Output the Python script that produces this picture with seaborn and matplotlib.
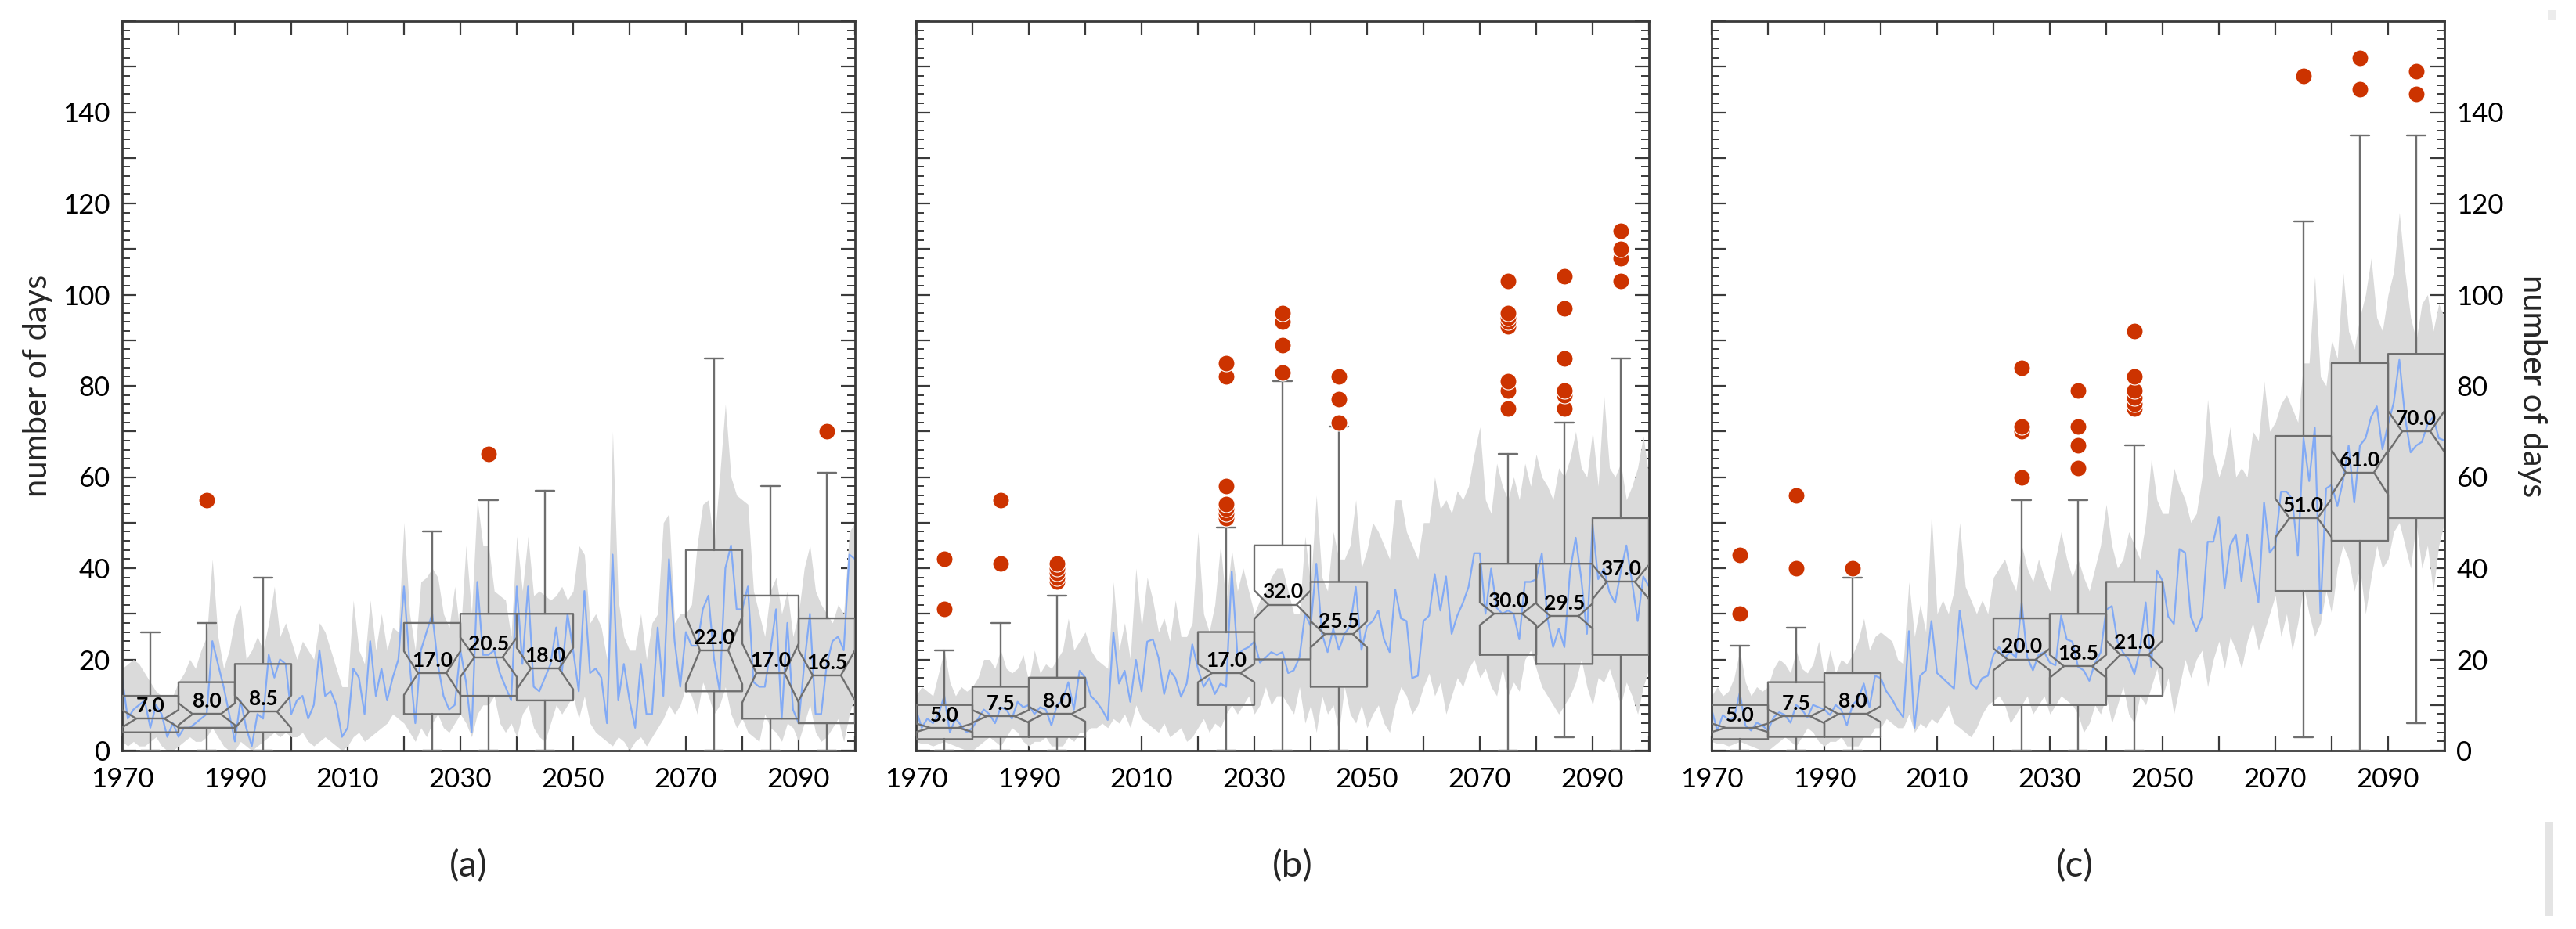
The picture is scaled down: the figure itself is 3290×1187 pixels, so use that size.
import numpy as np
import pandas as pd
import matplotlib
matplotlib.use("Agg")
import matplotlib.pyplot as plt
from matplotlib.patches import Rectangle
from matplotlib.ticker import MultipleLocator, FuncFormatter
import seaborn as sns

# ---- data ----
years = np.arange(1970, 2101)
decade_centres = [1975, 1985, 1995, 2025, 2035, 2045, 2075, 2085, 2095]

# panel (a)
a_line = [16, 7, 9, 10, 11, 5, 10, 8, 3, 6,
          3, 5, 5, 6, 7, 8, 24, 19, 14, 8,
          2, 11, 5, 1, 8, 7, 21, 16, 20, 19,
          8, 11, 12, 7, 10, 22, 12, 13, 10, 3,
          5, 18, 16, 8, 24, 12, 18, 11, 16, 20,
          36, 19, 6, 22, 26, 30, 19, 12, 9, 10,
          22, 15, 4, 37, 21,
          21, 22, 17, 14, 11, 36, 19, 36, 14, 13,
          16, 19, 27, 17, 30, 22, 13, 35, 17, 18,
          16, 6, 43, 11, 19, 11, 5, 19, 8, 8,
          27, 12, 42, 24, 14, 26, 23, 23, 31, 34,
          20, 13, 40, 45, 31, 31, 36, 15, 14, 14,
          22, 31, 7, 28, 9, 6, 19, 30, 8, 8,
          19, 24, 25, 22, 43, 42]
a_low = [2, 1, 2, 1, 1, 2, 3, 1, 0, 0,
         1, 2, 3, 2, 2, 3, 5, 3, 1, 0,
         0, 2, 1, 0, 1, 2, 3, 4, 3, 4,
         3, 3, 4, 2, 1, 2, 3, 2, 1, 0,
         1, 3, 4, 2, 3, 4, 5, 6, 8, 7,
         6, 4, 2, 5, 3, 6, 8, 5, 4, 6,
         8, 6, 3, 8, 10,
         10, 12, 6, 4, 6, 3, 8, 10, 5, 3,
         2, 6, 10, 8, 10, 12, 7, 12, 6, 4,
         3, 2, 1, 3, 2, 0, 2, 3, 1, 3,
         5, 7, 10, 8, 10, 14, 12, 8, 15, 12,
         8, 10, 14, 8, 5, 7, 4, 3, 2, 8,
         5, 4, 2, 6, 5, 2, 6, 10, 4, 2,
         3, 5, 7, 2, 8, 12]
a_high = [18, 19, 20, 19, 17, 15, 13, 12, 12, 12,
          15, 17, 20, 18, 22, 25, 42, 25, 18, 22,
          29, 32, 20, 22, 25, 22, 28, 36, 25, 28,
          24, 20, 24, 22, 20, 28, 26, 22, 18, 14,
          14, 33, 22, 19, 33, 22, 30, 22, 27, 26,
          50, 30, 22, 37, 38, 40, 38, 30, 27, 36,
          25, 45, 30, 55, 45,
          45, 35, 34, 33, 25, 47, 35, 47, 34, 35,
          34, 33, 34, 36, 33, 35, 45, 43, 28, 30,
          27, 20, 70, 33, 25, 22, 22, 30, 20, 28,
          30, 50, 52, 28, 30, 30, 32, 45, 54, 55,
          45, 60, 76, 60, 56, 55, 54, 35, 30, 25,
          35, 38, 30, 35, 25, 30, 40, 45, 35, 32,
          30, 28, 32, 30, 48, 50]
a_med = [7.0, 8.0, 8.5, 17.0, 20.5, 18.0, 22.0, 17.0, 16.5]
a_q1 = [4, 5, 4, 8, 12, 11, 13, 7, 6]
a_q3 = [12, 15, 19, 28, 30, 30, 44, 34, 29]
a_whislo = [0, 0, 0, 0, 0, 0, 0, 0, 0]
a_whishi = [26, 28, 38, 48, 55, 57, 86, 58, 61]
a_fliers = [[], [55], [], [], [65], [], [], [], [70]]

# panel (b)
b_line = [9, 5, 7, 6, 8, 12, 4, 7, 5.5, 4,
          5, 7, 9, 8, 6, 9.5, 9, 7, 10.7, 9.5,
          10, 8, 9.5, 9, 5.5, 10, 11, 15, 9, 17.5,
          16, 12, 10.7, 9, 6.7, 25.9, 14.7, 17.5, 10.7, 19.9,
          13, 23.9, 24.4, 20.4, 12.4, 17.6, 15.9, 11.8, 14.7, 23.3,
          18, 14, 15.9, 12.4, 14.7, 14, 39.3, 21, 22.1, 22.7,
          23.9, 19.3, 20.4, 21.6, 21,
          21.6, 17, 17.6, 20.4, 30, 27.3, 41, 25.6, 21.6, 26.7,
          22.1, 25.6, 27.3, 35.9, 22.1, 27.3, 28.4, 30.7, 24.4, 21.6,
          35.3, 29, 28.4, 15.9, 16.4, 28.4, 29.6, 38.7, 30.7, 38.2,
          25.6, 29.6, 32.4, 35.9, 43.3, 43.3, 30, 39.9, 31.3, 30,
          30.7, 30, 24.4, 37, 37, 37.6, 43.3, 29, 22.7, 26.7,
          22.7, 39.3, 46.7, 37.6, 25.6, 49.6, 37.6, 39.9, 34.7, 32.4,
          39.3, 45, 37, 28.4, 38.2, 36]
b_low = [2, 1.5, 1.5, 1, 1.5, 2, 1.5, 1, 0.5, 0,
         0, 1, 2, 3, 2, 1, 3, 5, 4, 2,
         1, 2, 2, 3, 1, 1, 1, 3, 2, 4,
         4, 5, 5, 6, 5, 7, 6, 8, 5, 10,
         7, 6, 5, 4, 6, 3, 4, 5, 2, 3,
         5, 7, 4, 6, 5, 8, 10, 8, 10, 12,
         8, 10, 14, 10, 12,
         12, 10, 8, 14, 6, 10, 4, 12, 8, 10,
         4, 14, 8, 6, 10, 5, 8, 10, 6, 4,
         10, 14, 12, 8, 10, 14, 17, 12, 15, 8,
         12, 16, 14, 18, 20, 16, 18, 14, 12, 18,
         12, 15, 13, 20, 22, 18, 14, 12, 10, 8,
         10, 12, 15, 20, 14, 10, 16, 15, 18, 14,
         10, 15, 12, 8, 14, 18]
b_high = [12, 14, 13, 12, 17, 22, 15, 12, 14, 13,
          14, 16, 20, 20, 18, 22, 18, 17, 18, 21,
          15, 22, 17, 19, 18, 20, 22, 29, 22, 24,
          26, 22, 20, 19, 18, 37, 22, 28, 20, 40,
          27, 38, 33, 26, 29, 24, 33, 25, 25, 28,
          48, 30, 26, 32, 45, 32, 44, 35, 40, 35,
          30, 33, 35, 38, 40,
          40, 35, 30, 30, 47, 36, 56, 38, 35, 48,
          42, 42, 45, 55, 40, 44, 50, 48, 45, 42,
          55, 55, 48, 45, 42, 50, 50, 60, 53, 55,
          52, 57, 55, 58, 65, 71, 55, 52, 63, 58,
          55, 60, 55, 63, 58, 65, 60, 58, 55, 62,
          60, 64, 70, 62, 60, 70, 58, 78, 62, 60,
          63, 55, 58, 62, 69, 60]
b_med = [5.0, 7.5, 8.0, 17.0, 32.0, 25.5, 30.0, 29.5, 37.0]
b_q1 = [2.5, 3, 3, 10, 20, 14, 21, 19, 21]
b_q3 = [10, 14, 16, 26, 45, 37, 41, 41, 51]
b_whislo = [0, 0, 0, 0, 0, 0, 0, 3, 0]
b_whishi = [22, 28, 34, 49, 81, 71, 65, 72, 86]
b_fliers = [[31, 42], [41, 55], [37, 38, 39, 40, 41],
            [51, 52, 53, 54, 58, 82, 85], [83, 89, 94, 96], [72, 77, 82],
            [75, 79, 81, 93, 94, 95, 96, 103], [75, 78, 79, 86, 97, 104],
            [103, 108, 110, 114]]

# panel (c)
c_line = [9, 4.4, 7.8, 6.7, 7.3, 12.7, 5.5, 4.4, 6.1, 5.5,
          4.4, 7.3, 8.4, 7.8, 6.1, 10, 9, 7.3, 10, 9.5,
          9, 7.8, 10, 9, 5.5, 10, 11.3, 14.7, 9.5, 16.4,
          15.9, 13, 11.3, 9, 7.3, 26.2, 5, 16.4, 17.6, 28.4,
          17, 15.9, 14.7, 13.6, 30.7, 22.7, 14.7, 13.6, 15.9, 16.4,
          21, 22.7, 20.4, 21.6, 20.4, 32.4, 20.4, 17.6, 21, 21.6,
          19.3, 18.7, 29.6, 24.4, 23.9,
          18.4, 17.6, 15.3, 19.2, 21.5, 30.9, 31.7, 23.9, 21.5, 20,
          16.8, 22.3, 32.5, 18.4, 39.5, 37.2, 29.4, 27.8, 44.2, 43.4,
          29.4, 26.2, 29.4, 45.8, 45.8, 51.3, 35.6, 45, 47.4, 37.2,
          47.4, 39.5, 32.5, 54.4, 43.4, 45, 56.8, 56.8, 55.2, 42.7,
          68.5, 59.1, 70.8, 30.1, 57.5, 58.3, 53.6, 59.1, 66.9, 54.4,
          66.9, 68.5, 73.2, 75.5, 66.1, 71.6, 76.3, 85.7, 73.2, 65.4,
          66.9, 67.7, 71.6, 73.2, 68.5, 68]
c_low = [2, 1.5, 1.5, 1, 1.5, 2, 1.5, 1, 0.5, 0,
         0, 1, 2, 3, 2, 1, 3, 5, 4, 2,
         1, 2, 2, 3, 1, 1, 1, 3, 3, 5,
         5, 7, 6, 5, 5, 8, 4, 6, 5, 7,
         6, 8, 10, 6, 5, 4, 3, 5, 8, 10,
         11, 12, 10, 6, 8, 10, 12, 8, 10, 12,
         8, 10, 12, 11, 10,
         8, 4, 6, 10, 8, 12, 6, 10, 14, 8,
         6, 12, 10, 14, 18, 12, 16, 8, 14, 20,
         16, 20, 22, 14, 20, 24, 18, 25, 22, 18,
         24, 28, 22, 26, 30, 34, 25, 30, 22, 28,
         36, 30, 25, 28, 35, 30, 40, 45, 42, 35,
         40, 30, 38, 45, 40, 42, 48, 50, 45, 40,
         50, 40, 45, 35, 45, 50]
c_high = [12, 14, 12, 13, 16, 22, 15, 12, 14, 13,
          14, 18, 20, 19, 17, 22, 18, 17, 19, 24,
          16, 22, 17, 20, 19, 21, 24, 29, 22, 25,
          26, 25, 24, 20, 19, 37, 25, 32, 26, 52,
          30, 33, 30, 35, 50, 36, 33, 30, 33, 30,
          38, 40, 42, 38, 35, 45, 40, 37, 42, 38,
          35, 42, 48, 42, 38,
          42, 38, 35, 40, 45, 54, 45, 40, 42, 48,
          45, 42, 50, 64, 55, 52, 52, 62, 58, 55,
          50, 52, 60, 77, 65, 60, 64, 71, 60, 62,
          60, 70, 68, 81, 70, 72, 76, 78, 75, 72,
          85, 85, 104, 82, 80, 90, 86, 105, 92, 88,
          95, 100, 108, 95, 92, 100, 105, 118, 105, 95,
          90, 98, 100, 92, 98, 95]
c_med = [5.0, 7.5, 8.0, 20.0, 18.5, 21.0, 51.0, 61.0, 70.0]
c_q1 = [2.5, 3, 3, 10, 10, 12, 35, 46, 51]
c_q3 = [10, 15, 17, 29, 30, 37, 69, 85, 87]
c_whislo = [0, 0, 0, 0, 0, 0, 3, 0, 6]
c_whishi = [23, 27, 38, 55, 55, 67, 116, 135, 135]
c_fliers = [[30, 43], [40, 56], [40], [60, 70, 71, 84], [62, 67, 71, 79],
            [75, 76, 77.5, 79, 82, 92], [148], [145, 152], [144, 149]]

# sample size behind the notches (notch = med +/- 1.57 IQR / sqrt(n))
notch_n = {"a": 43, "b": 158, "c": 158}

# ---- style ----
sns.set_theme(style="ticks")
plt.rcParams["font.family"] = ["Lato", "DejaVu Sans"]
plt.rcParams["xtick.direction"] = "in"
plt.rcParams["ytick.direction"] = "in"

band_col = "#dadada"
line_col = "#82aaf5"
box_col = "#6e6e6e"
dot_col = "#cc3300"
axis_col = "#3a3a3a"

fig = plt.figure(figsize=(32.9, 11.87), dpi=100)
W, H = 3290, 1187
lefts = [156, 1170, 2186]
ax_w = 936
bottom_px, top_px = 959, 27
axes = [fig.add_axes([l / W, 1 - bottom_px / H, ax_w / W, (bottom_px - top_px) / H])
        for l in lefts]


def draw_panel(ax, line, low, high, med, q1, q3, wlo, whi, fliers, n):
    ax.fill_between(years, low, high, color=band_col, lw=0, zorder=1)
    sns.lineplot(x=years, y=line, ax=ax, color=line_col, lw=1.6, zorder=2)

    stats = []
    for m, lo, hi, a, b in zip(med, q1, q3, wlo, whi):
        half = 1.57 * (hi - lo) / np.sqrt(n)
        stats.append(dict(med=m, q1=lo, q3=hi, whislo=a, whishi=b,
                          cilo=m - half, cihi=m + half, fliers=[]))
    lp = dict(color=box_col, lw=1.7)
    ax.bxp(stats, positions=decade_centres, widths=10, shownotches=True,
           showfliers=False, boxprops=lp, whiskerprops=lp, capprops=lp,
           medianprops=lp, capwidths=3.2, manage_ticks=False, zorder=3)

    pts = pd.DataFrame([(x, v) for x, fl in zip(decade_centres, fliers) for v in fl],
                       columns=["year", "days"])
    sns.scatterplot(data=pts, x="year", y="days", ax=ax, color=dot_col, s=230,
                    edgecolor="white", linewidth=0.8, zorder=4)

    for x, m in zip(decade_centres, med):
        ax.annotate(f"{m:.1f}", (x, m), xytext=(0, 3), textcoords="offset points",
                    ha="center", va="bottom", fontsize=19, fontweight="bold",
                    color="black", zorder=5)

    ax.set_xlim(1970, 2100)
    ax.set_ylim(0, 160)
    ax.set_xlabel("")
    ax.set_ylabel("")
    ax.xaxis.set_major_locator(MultipleLocator(10))
    ax.xaxis.set_major_formatter(FuncFormatter(
        lambda v, p: f"{v:.0f}" if (round(v) - 1970) % 20 == 0 else ""))
    ax.yaxis.set_major_locator(MultipleLocator(10))
    ax.yaxis.set_minor_locator(MultipleLocator(2))
    # labels every 20, the top one (160) left blank as in the original
    ax.yaxis.set_major_formatter(FuncFormatter(
        lambda v, p: f"{v:.0f}" if round(v) % 20 == 0 and v < 150 else ""))
    ax.tick_params(which="both", top=True, right=True, bottom=True, left=True,
                   color=axis_col, labelsize=25, labelcolor="black")
    ax.tick_params(which="major", length=13, width=1.6)
    ax.tick_params(which="minor", length=7, width=1.4)
    ax.tick_params(axis="x", pad=15)
    ax.tick_params(axis="y", pad=11)
    for sp in ax.spines.values():
        sp.set_color(axis_col)
        sp.set_linewidth(2)
        sp.set_visible(True)


draw_panel(axes[0], a_line, a_low, a_high, a_med, a_q1, a_q3, a_whislo, a_whishi,
           a_fliers, notch_n["a"])
draw_panel(axes[1], b_line, b_low, b_high, b_med, b_q1, b_q3, b_whislo, b_whishi,
           b_fliers, notch_n["b"])
draw_panel(axes[2], c_line, c_low, c_high, c_med, c_q1, c_q3, c_whislo, c_whishi,
           c_fliers, notch_n["c"])

axes[0].tick_params(axis="y", labelleft=True, labelright=False)
axes[1].tick_params(axis="y", labelleft=False, labelright=False)
axes[2].tick_params(axis="y", labelleft=False, labelright=True)

axes[0].text(-0.1155, 0.5, "number of days", transform=axes[0].transAxes,
             rotation=90, ha="center", va="center", fontsize=30)
axes[2].text(1.12, 0.5, "number of days", transform=axes[2].transAxes,
             rotation=270, ha="center", va="center", fontsize=30)

for x_px, lab in zip([598, 1651, 2650], ["(a)", "(b)", "(c)"]):
    fig.text(x_px / W, 1 - 1107 / H, lab, ha="center", va="center", fontsize=34)

# faint scroll-bar marks at the right edge of the original screenshot
fig.patches.append(Rectangle((3251 / W, 1 - 1170 / H), 9 / W, 120 / H,
                             transform=fig.transFigure, color="#e4e4e4", lw=0))
fig.patches.append(Rectangle((3254 / W, 1 - 26 / H), 11 / W, 13 / H,
                             transform=fig.transFigure, color="#ececec", lw=0))

fig.savefig("out.png", dpi=100)
